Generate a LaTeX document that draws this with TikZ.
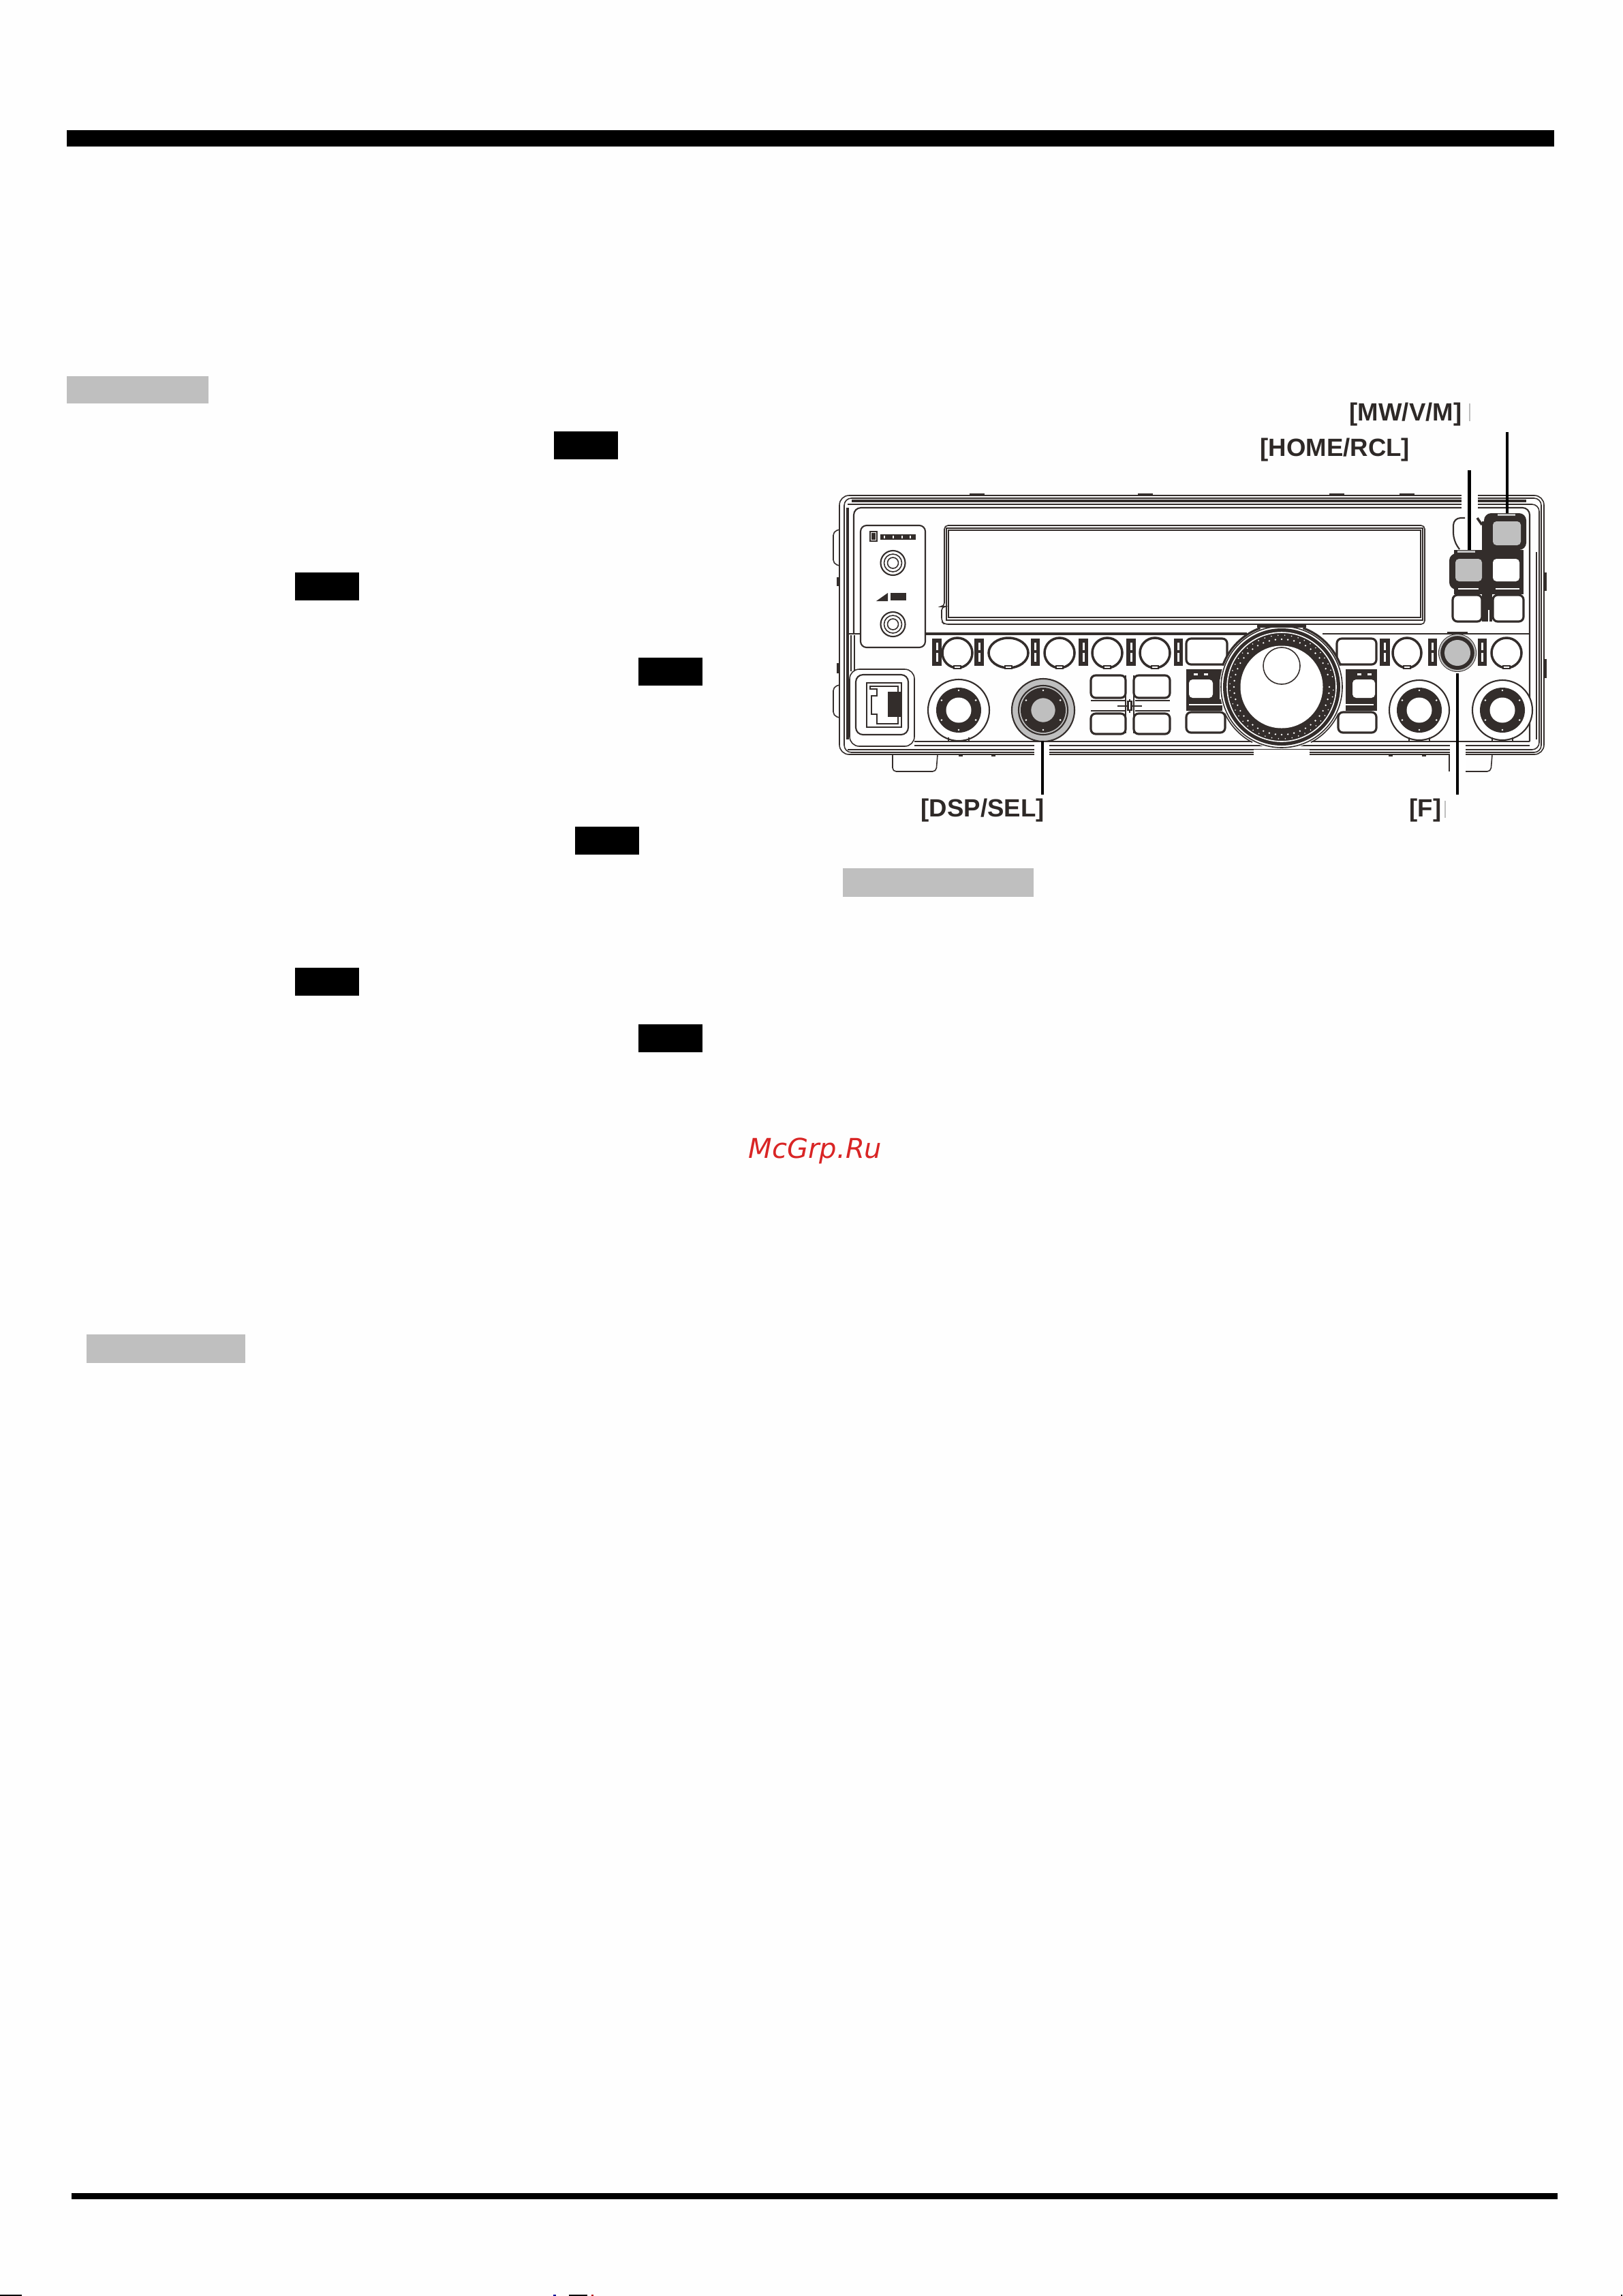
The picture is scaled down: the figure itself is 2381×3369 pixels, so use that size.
\documentclass[tikz,border=0pt]{standalone}
\usepackage{fontspec}
\setmainfont{Liberation Sans}
\newfontfamily\wmfont{DejaVu Sans}
\definecolor{ink}{HTML}{332D2B}
\definecolor{greyfill}{HTML}{BFBFBF}
\definecolor{pagebg}{HTML}{FEFEFE}
\definecolor{wmred}{HTML}{D92525}
\tikzset{
  hair/.style={draw=ink,line width=0.45pt},
  thin line/.style={draw=ink,line width=0.6pt},
  heavy/.style={draw=ink,line width=1.0pt},
  leader/.style={draw=black,line width=1.3pt},
  panelbtn/.style={draw=ink,line width=0.9pt,fill=white,rounded corners=2pt},
  cap label/.style={font=\bfseries\fontsize{10.4}{12}\selectfont,text=ink!90!black,inner sep=0pt,anchor=base west},
  blockbar/.style={fill=black},
  greybar/.style={fill=greyfill},
}
% round button in the long row
\newcommand\rowbtn[3]{%
  \draw[heavy,fill=white] (#1,#2) ellipse [x radius=#3,y radius=22];
  \draw[hair,fill=white] (#1-5,#2+19) rectangle (#1+5,#2+23);
}
% small slotted bar between row buttons
\newcommand\rigbar[2]{%
  \fill[ink] (#1,937) rectangle (#2,977);
  \pgfmathsetmacro\slitx{(#1+#2)/2}
  \fill[white] (\slitx-1.5,943) rectangle (\slitx+1.5,954);
  \fill[white] (\slitx-1.5,958) rectangle (\slitx+1.5,971);
}
% large bottom knob
\newcommand\bigknob[5]{%
  \draw[#4] (#1,#2) circle [radius=#3];
  \fill[ink] (#1,#2) circle [radius=33];
  \fill[#5] (#1,#2) circle [radius=18.5];
  \foreach \a in {30,90,...,330} {\fill[white] ({#1+29*cos(\a)},{#2+29*sin(\a)}) circle [radius=1.4];}
}
\begin{document}
\begin{tikzpicture}[x=0.01cm,y=-0.01cm]
\useasboundingbox (0,0) rectangle (2381,3369);
\fill[pagebg] (0,0) rectangle (2381,3369);

% page bars
\fill[blockbar] (98,191) rectangle (2281,215);
\fill[blockbar] (105,3218) rectangle (2286,3227);
\fill[greybar] (98,552) rectangle (306,592);
\fill[greybar] (127,1958) rectangle (360,2000);
\fill[greybar] (1237,1274) rectangle (1517,1316);
\foreach \xa/\ya in {813/633,433/840,937/965,844/1213,433/1420,937/1503}
  {\fill[blockbar] (\xa,\ya) rectangle (\xa+94,\ya+41);}
% scan residue on the last row
\fill[black] (0,3367) rectangle (32,3369);
\fill[blue!60!black] (812,3367) rectangle (816,3369);
\fill[black] (835,3367) rectangle (862,3369);
\fill[red!70!black] (868,3367) rectangle (871,3369);
\fill[black] (2379,3367) rectangle (2381,3369);

% watermark
\node[font=\wmfont\itshape\fontsize{11.4}{13}\selectfont,text=wmred,inner sep=0pt,anchor=base west] (wm) at (1098,1699) {McGrp.Ru};

% --- radio body ---
\draw[hair,rounded corners=4pt] (1232,727) rectangle (2266,1107);
\draw[hair,rounded corners=3pt] (1239,731) -- (2262,731) -- (2262,1104) -- (1239,1104) -- cycle;
\draw[hair,rounded corners=3pt] (1244,740) -- (2259,740) -- (2259,1100) -- (1244,1100);
\draw[heavy] (1250,735) -- (2240,735);
\draw[heavy] (1244,745) -- (1244,1085);
\draw[thin line,rounded corners=3pt] (1253,930) -- (1253,745) -- (2245,745) -- (2245,1088);
\draw[hair] (2255,810) -- (2255,1085);
\draw[hair] (1941,930) -- (2245,930);
\draw[heavy] (1358,930) -- (1830,930);
\draw[hair] (1244,930) -- (1263,930);
\draw[hair] (1249,932) -- (1249,985);
\draw[hair] (1254,932) -- (1254,985);
\draw[thin line] (1342,1088) -- (2245,1088);
\draw[hair] (1342,1094) -- (2245,1094);

% side tabs, top ticks, feet
\draw[hair,rounded corners=1.5pt] (1232,777) -- (1223,780) -- (1223,827) -- (1232,830);
\draw[hair,rounded corners=1.5pt] (1232,1005) -- (1223,1008) -- (1223,1050) -- (1232,1053);
\fill[ink] (1228,847) rectangle (1232,860);
\fill[ink] (1228,973) rectangle (1232,988);
\fill[ink] (2266,840) rectangle (2270,867);
\fill[ink] (2266,967) rectangle (2270,995);
\foreach \xa in {1423,1670,1951,2054} {\fill[ink] (\xa,724) rectangle (\xa+22,727);}
\foreach \xa in {1410,1458,2041,2090} {\fill[ink] (\xa-3,1107) rectangle (\xa+3,1110);}
\draw[hair,rounded corners=1.5pt] (1310,1107) -- (1310,1132) -- (1374,1132) -- (1376,1107);
\draw[hair,rounded corners=1.5pt] (2127,1107) -- (2127,1132) -- (2188,1132) -- (2190,1107);

% left panel
\draw[thin line,fill=white,rounded corners=2.5pt] (1263,771) rectangle (1358,950);
\draw[hair] (1277,780) rectangle (1287,794);
\fill[ink] (1279,782) rectangle (1285,792);
\fill[ink] (1292,784) rectangle (1344,792);
\fill[white] (1297,786) rectangle (1299,790);
\fill[white] (1310,786) rectangle (1312,790);
\fill[white] (1323,786) rectangle (1325,790);
\fill[white] (1335,786) rectangle (1337,790);
\foreach \yk in {826,916} {
  \draw[thin line] (1310.5,\yk) circle [radius=18];
  \draw[hair] (1310.5,\yk) circle [radius=13];
  \draw[hair] (1310.5,\yk) circle [radius=8];
}
\fill[ink] (1286,882) -- (1303,870) -- (1303,882) -- cycle;
\fill[ink] (1307,870) rectangle (1330,881);

% display
\draw[hair,rounded corners=1.5pt] (1386,890) -- (1386,771) -- (2091,771) -- (2091,916) -- (1386,916) -- (1382,912) -- (1382,890) -- cycle;
\draw[thin line] (1392,778) rectangle (2085,906);
\draw[hair] (1388,775) -- (2089,775);
\draw[hair] (1389,775) -- (1389,910) -- (2088,910) -- (2088,775);

% button row
\rigbar{1368}{1382}\rigbar{1430}{1444}\rigbar{1513}{1526}\rigbar{1583}{1597}\rigbar{1653}{1667}\rigbar{1723}{1736}
\rigbar{2025}{2040}\rigbar{2096}{2109}\rigbar{2169}{2182}
\rowbtn{1405}{958}{22}\rowbtn{1480}{958}{29}\rowbtn{1555}{958}{22}\rowbtn{1625}{958}{22}\rowbtn{1695}{958}{22}
\rowbtn{2065}{958}{21}\rowbtn{2211}{958}{22}
\draw[panelbtn] (1741,937) rectangle (1801,975);
\draw[panelbtn] (1962,937) rectangle (2020,975);

% F button
\fill[ink] (2124,927) rectangle (2154,931);
\fill[ink] (2139,958) circle [radius=28];
\fill[greyfill] (2139,958) circle [radius=19];
\draw[draw=greyfill,line width=0.6pt] (2139,958) circle [radius=26];

% 2x2 pad
\draw[draw=ink,line width=0.8pt] (1601,1028) -- (1651,1028) (1666,1028) -- (1717,1028) (1601,1043) -- (1651,1043) (1666,1043) -- (1717,1043);
\draw[draw=ink,line width=0.7pt] (1652,991) -- (1652,1076) (1664,991) -- (1664,1076);
\draw[hair] (1640,1036) -- (1676,1036) (1658,1026) -- (1658,1046);
\fill[ink] (1654,1028) rectangle (1662,1043);
\fill[white] (1657,1030) rectangle (1659,1041);
\draw[panelbtn] (1601,991) rectangle (1652,1024);
\draw[panelbtn] (1664,991) rectangle (1717,1024);
\draw[panelbtn] (1601,1047) rectangle (1652,1077);
\draw[panelbtn] (1664,1047) rectangle (1717,1077);

% buttons at the sides of the dial
\fill[ink] (1741,982) rectangle (1794,997);
\fill[ink] (1741,1026) rectangle (1794,1043);
\fill[ink] (1741,997) rectangle (1790,1026);
\fill[ink] (1975,982) rectangle (2021,997);
\fill[ink] (1975,1026) rectangle (2021,1043);
\fill[ink] (1975,997) rectangle (2021,1026);
\fill[white,rounded corners=1.5pt] (1745,997) rectangle (1780,1024);
\fill[white,rounded corners=1.5pt] (1985,997) rectangle (2018,1024);
\foreach \xa in {1755,1770,1995,2010} {\fill[white] (\xa-3,988) rectangle (\xa+3,991);}
\draw[draw=white,line width=0.5pt] (1745,1034) -- (1795,1034) (1975,1034) -- (2016,1034);
\draw[panelbtn] (1741,1045) rectangle (1798,1075);
\draw[panelbtn] (1964,1045) rectangle (2020,1075);

% main dial
\fill[white] (1881,1008) circle [radius=91];
\draw[hair] (1881,1008) circle [radius=89];
\fill[ink] (1881,1008) circle [radius=86];
\draw[draw=white,line width=0.45pt] (1881,1008) circle [radius=80];
\fill[white] (1881,1008) circle [radius=60.5];
\foreach \a in {0,7.5,...,352} {\fill[white] ({1881+70*cos(\a)},{1008+70*sin(\a)}) circle [radius=1.3];}
\foreach \a in {3.5,11,...,352} {\fill[white] ({1881+76*cos(\a)},{1008+76*sin(\a)}) circle [radius=0.9];}
\draw[hair,fill=white] (1881,977) circle [radius=27];
\fill[white] (1840,1100) rectangle (1922,1108);
% shoulders round the dial (y axis is flipped, so angles run clockwise on the page)
\draw[draw=ink,line width=0.9pt] (1881,1008) ++(200:92) arc [start angle=200,end angle=250,radius=92];
\draw[draw=ink,line width=0.9pt] (1881,1008) ++(290:92) arc [start angle=290,end angle=340,radius=92];
\fill[ink] (1845,916) rectangle (1917,921);
\draw[hair] (1881,1008) ++(25:92) arc [start angle=25,end angle=62,radius=92];
\draw[hair] (1881,1008) ++(118:92) arc [start angle=118,end angle=155,radius=92];

% bottom knobs
\bigknob{1407}{1042}{45}{thin line,fill=white}{white}
\fill[greyfill] (1531,1042) circle [radius=45];
\draw[thin line] (1531,1042) circle [radius=46];
\bigknob{1531}{1042}{36}{thin line}{greyfill}
\draw[hair] (1531,1042) circle [radius=18.5];
\bigknob{2083}{1042}{44}{thin line,fill=white}{white}
\bigknob{2205}{1042}{44}{thin line,fill=white}{white}
\foreach \xa in {1407,2083,2205} {
  \draw[hair] (\xa-15,1082) -- (\xa-15,1088) (\xa+15,1082) -- (\xa+15,1088);
}

% phone jack
\draw[hair,fill=white,rounded corners=4pt] (1247,982) rectangle (1342,1095);
\draw[thin line,rounded corners=3pt] (1256,990) rectangle (1333,1078);
\draw[thin line] (1272,1002) rectangle (1323,1067);
\draw[hair] (1277,1007) -- (1318,1007) -- (1318,1062) -- (1287,1062) -- (1287,1048) -- (1279,1048) -- (1279,1021) -- (1287,1021) -- (1287,1011) -- (1277,1011) -- cycle;
\fill[ink] (1303,1015) rectangle (1323,1052);

% small 3x2 keypad
\fill[ink] (2175,765) rectangle (2190,912);
\fill[ink] (2134,807) rectangle (2236,820);
\fill[ink] (2134,855) rectangle (2236,872);
\fill[ink,rounded corners=3pt] (2178,753) rectangle (2240,807);
\fill[ink,rounded corners=3pt] (2127,812) rectangle (2178,865);
\fill[ink] (2178,810) rectangle (2236,868);
\draw[draw=white,line width=0.5pt] (2140,864) -- (2170,864) (2195,864) -- (2230,864) (2185,895) -- (2185,912);
\draw[thin line,rounded corners=3pt] (2150,760) -- (2133,760) -- (2133,793) -- (2142,806);
\draw[draw=ink,line width=1pt] (2168,760) -- (2175,770);
\fill[greyfill,rounded corners=1.5pt] (2191,765) rectangle (2232,800);
\fill[greyfill,rounded corners=1.5pt] (2136,820) rectangle (2175,853);
\fill[white,rounded corners=1.5pt] (2191,820) rectangle (2230,853);
\draw[panelbtn] (2132,873) rectangle (2175,912);
\draw[panelbtn] (2191,873) rectangle (2236,912);
\fill[greyfill] (2139,808) rectangle (2165,811);
\fill[greyfill] (2198,754) rectangle (2224,757);

% gaps round the leaders
\fill[white] (2145,724) rectangle (2169,750);
\fill[white] (1518,1090) rectangle (1540,1112);
\fill[white] (2127.5,1090) rectangle (2151,1134);
\draw[hair] (2127,1107) -- (2127,1132);

% labels
\node[cap label] (mw) at (1980,617) {[MW/V/M]};
\node[cap label] (home) at (1849,669) {[HOME/RCL]};
\node[cap label] (dsp) at (1351,1198) {[DSP/SEL]};
\node[cap label] (fkey) at (2068,1198) {[F]};
\draw[draw=greyfill,line width=0.4pt] (2157,592) -- (2157,618);
\draw[draw=greyfill,line width=0.4pt] (2121,1175) -- (2121,1200);

% leaders
\coordinate (mwtop) at (2212,634);
\coordinate (mwkey) at (2212,753);
\coordinate (hometop) at (2156.5,690);
\coordinate (homekey) at (2156.5,807);
\coordinate (dspkey) at (1530,1087);
\coordinate (dspend) at (1530,1166);
\coordinate (fkeyup) at (2139,988);
\coordinate (fend) at (2139,1166);
\draw[leader] (mwtop) -- (mwkey);
\draw[leader] (hometop) -- (homekey);
\draw[leader] (dspkey) -- (dspend);
\draw[leader] (fkeyup) -- (fend);
\end{tikzpicture}
\end{document}
